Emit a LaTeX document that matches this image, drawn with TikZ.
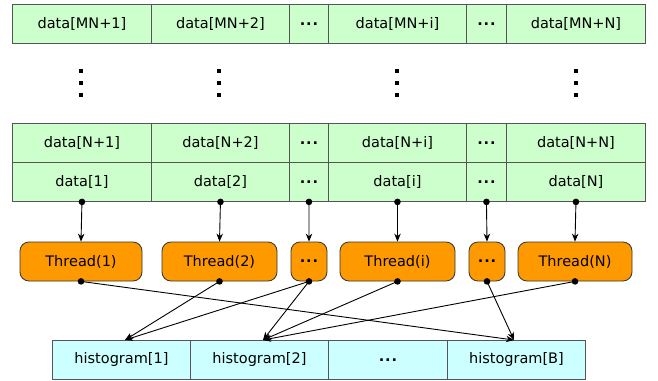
\documentclass[tikz,border=0pt]{standalone}
\usepackage{fontspec}
\setmainfont{DejaVu Sans}
\usetikzlibrary{arrows.meta}
\definecolor{datagreen}{HTML}{CCFFCC}
\definecolor{threadorange}{HTML}{FF9900}
\definecolor{histcyan}{HTML}{CCFFFF}
\definecolor{cellline}{HTML}{555555}
\begin{document}
\begin{tikzpicture}[x=1pt,y=-1pt,
  cell/.style={draw=cellline,line width=0.9pt,minimum height=39pt,inner sep=0pt,font=\fontsize{14.5}{16}\selectfont},
  datacell/.style={cell,fill=datagreen},
  histcell/.style={cell,fill=histcyan},
  threadbox/.style={draw=black!80,line width=0.8pt,fill=threadorange,rounded corners=9pt,minimum height=39pt,inner sep=0pt,font=\fontsize{14.5}{16}\selectfont},
  tip/.style={-{Stealth[length=8pt,width=6.5pt]},line width=0.9pt},
  dotcol/.style={inner sep=0pt}
]
\useasboundingbox (0,0) rectangle (658,380);

% cell spanning x-range #2..#3 with top edge at #4, named #1
\newcommand{\datacell}[6]{\node[#6,minimum width=#3-#2 pt,anchor=north west] (#1) at (#2,#4) {#5};}
\newcommand{\dd}{\textbf{.\hspace{0.8pt}.\hspace{0.8pt}.}}

% top row
\datacell{m1}{12}{151}{4}{data[MN+1]}{datacell}
\datacell{m2}{151}{289}{4}{data[MN+2]}{datacell}
\datacell{m3}{289}{328}{4}{\dd}{datacell}
\datacell{m4}{328}{466}{4}{data[MN+i]}{datacell}
\datacell{m5}{466}{506}{4}{\dd}{datacell}
\datacell{m6}{506}{645}{4}{data[MN+N]}{datacell}

% vertical ellipses
\foreach \xx/\nm in {81/e1,219/e2,397/e3,576/e4}{
  \node[dotcol] (\nm) at (\xx,82.5) {%
    \tikz[x=1pt,y=-1pt]{\fill (0,0) rectangle (4,4); \fill (0,12) rectangle (4,16); \fill (0,24) rectangle (4,28);}};
}

% second row
\datacell{n1}{12}{151}{123}{data[N+1]}{datacell}
\datacell{n2}{151}{289}{123}{data[N+2]}{datacell}
\datacell{n3}{289}{328}{123}{\dd}{datacell}
\datacell{n4}{328}{466}{123}{data[N+i]}{datacell}
\datacell{n5}{466}{506}{123}{\dd}{datacell}
\datacell{n6}{506}{645}{123}{data[N+N]}{datacell}

% first row
\datacell{d1}{12}{151}{162}{data[1]}{datacell}
\datacell{d2}{151}{289}{162}{data[2]}{datacell}
\datacell{d3}{289}{328}{162}{\dd}{datacell}
\datacell{d4}{328}{466}{162}{data[i]}{datacell}
\datacell{d5}{466}{506}{162}{\dd}{datacell}
\datacell{d6}{506}{645}{162}{data[N]}{datacell}

% threads
\node[threadbox,minimum width=122pt] (t1) at (81,261.5) {Thread(1)};
\node[threadbox,minimum width=115pt] (t2) at (219.5,261.5) {Thread(2)};
\node[threadbox,minimum width=36pt]  (t3) at (309,261.5) {\dd};
\node[threadbox,minimum width=115pt] (t4) at (397.5,261.5) {Thread(i)};
\node[threadbox,minimum width=36pt]  (t5) at (487,261.5) {\dd};
\node[threadbox,minimum width=114pt] (t6) at (575,261.5) {Thread(N)};

% histogram
\datacell{h1}{52}{190}{340}{histogram[1]}{histcell}
\datacell{h2}{190}{328}{340}{histogram[2]}{histcell}
\datacell{h3}{328}{447}{340}{\dd}{histcell}
\datacell{h4}{447}{585}{340}{histogram[B]}{histcell}

% data -> thread
\foreach \i in {1,...,6}{
  \fill (d\i.south) circle (3.3pt);
  \draw[tip] (d\i.south) -- (t\i.north);
  \fill (t\i.south) circle (3.3pt);
}

% thread -> histogram bin
\coordinate (b1) at (125,340);
\coordinate (b2) at (263,340);
\coordinate (bB) at (514,340);
\draw[tip] (t1.south) -- (bB);
\draw[tip] (t2.south) -- (b1);
\draw[tip] (t3.south) -- (b1);
\draw[tip] (t3.south) -- (b2);
\draw[tip] (t4.south) -- (b2);
\draw[tip] (t5.south) -- (bB);
\draw[tip] (t6.south) -- (b2);
\end{tikzpicture}
\end{document}
